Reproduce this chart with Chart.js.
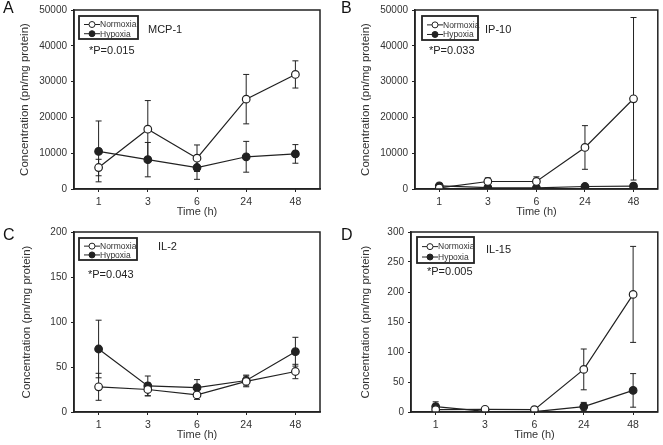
<!DOCTYPE html>
<html><head><meta charset="utf-8">
<script src="https://cdn.jsdelivr.net/npm/chart.js@4"></script>
<style>
html,body{margin:0;padding:0;background:#fff;}
#wrap{position:relative;width:663px;height:445px;overflow:hidden;background:#fff;}
canvas{position:absolute;}
.plbl{position:absolute;font-family:"Liberation Sans",Arial,sans-serif;font-size:16px;color:#111;line-height:16px;}
</style></head><body>
<div id="wrap">
<canvas id="cA" width="331" height="222" style="left:0;top:0;width:331px;height:222px"></canvas>
<canvas id="cB" width="332" height="222" style="left:331px;top:0;width:332px;height:222px"></canvas>
<canvas id="cC" width="331" height="223" style="left:0;top:222px;width:331px;height:223px"></canvas>
<canvas id="cD" width="332" height="223" style="left:331px;top:222px;width:332px;height:223px"></canvas>
<div class="plbl" style="left:3px;top:0px">A</div>
<div class="plbl" style="left:341px;top:0px">B</div>
<div class="plbl" style="left:3px;top:227px">C</div>
<div class="plbl" style="left:341px;top:227px">D</div>
</div>
<script>
// ---- data ----
const timeLabels = ['1', '3', '6', '24', '48'];
const seriesNames = ['Normoxia', 'Hypoxia'];

const mcpNormoxia = [6000, 16700, 8600, 25100, 32000];
const mcpNormoxiaErr = [2300, 8000, 3700, 6900, 3800];
const mcpHypoxia = [10500, 8200, 6000, 9000, 9800];
const mcpHypoxiaErr = [8500, 4800, 3300, 4300, 2600];

const ip10Normoxia = [300, 2100, 2100, 11600, 25200];
const ip10NormoxiaErr = [300, 1000, 1300, 6100, 22700];
const ip10Hypoxia = [900, 400, 300, 700, 800];
const ip10HypoxiaErr = [600, 200, 200, 200, 300];

const il2Normoxia = [28, 25, 19, 34, 45];
const il2NormoxiaErr = [15, 7, 5, 6, 8];
const il2Hypoxia = [70, 29, 27, 35, 67];
const il2HypoxiaErr = [32, 11, 9, 6, 16];

const il15Normoxia = [4, 4.5, 4, 71, 196];
const il15NormoxiaErr = [3, 2, 2, 34, 80];
const il15Hypoxia = [9, 1, 0.5, 9, 36];
const il15HypoxiaErr = [8, 1, 1, 7, 28];

const yMaxA = 50000, yStepA = 10000;
const yMaxB = 50000, yStepB = 10000;
const yMaxC = 200, yStepC = 50;
const yMaxD = 300, yStepD = 50;

const titles = ['MCP-1', 'IP-10', 'IL-2', 'IL-15'];
const pValues = ['*P=0.015', '*P=0.033', '*P=0.043', '*P=0.005'];

const xTitle = 'Time (h)';
const yTitle = 'Concentration (pn/mg protein)';

// ---- drawing ----
const FONT = '"Liberation Sans", Arial, sans-serif';
const INK = '#222';

function makePanel(id, cfg) {
  const ctxEl = document.getElementById(id);
  const W = ctxEl.width, H = ctxEl.height;
  const decor = {
    id: 'decor' + id,
    beforeDatasetsDraw(chart) {
      const ctx = chart.ctx;
      const xs = chart.scales.x, ys = chart.scales.y;
      ctx.save();
      ctx.strokeStyle = INK;
      ctx.lineWidth = 1;
      chart.data.datasets.forEach(ds => {
        ds.data.forEach((v, i) => {
          const e = ds.errors[i];
          const x = xs.getPixelForValue(i);
          const y1 = ys.getPixelForValue(v + e);
          const y0 = ys.getPixelForValue(Math.max(v - e, 0));
          ctx.beginPath();
          ctx.moveTo(x, y0); ctx.lineTo(x, y1);
          ctx.moveTo(x - 3, y0); ctx.lineTo(x + 3, y0);
          ctx.moveTo(x - 3, y1); ctx.lineTo(x + 3, y1);
          ctx.stroke();
        });
      });
      ctx.restore();
    },
    afterDraw(chart) {
      const ctx = chart.ctx;
      const a = chart.chartArea;
      ctx.save();
      ctx.strokeStyle = INK;
      ctx.lineWidth = 1.5;
      ctx.strokeRect(a.left, a.top, a.right - a.left, a.bottom - a.top);
      // legend box
      const lx = a.left + cfg.leg[0], ly = a.top + cfg.leg[1], lw = cfg.leg[2], lh = cfg.leg[3];
      ctx.lineWidth = 1.8;
      ctx.strokeRect(lx, ly, lw, lh);
      ctx.font = '8.5px ' + FONT;
      ctx.textBaseline = 'middle';
      ctx.textAlign = 'left';
      seriesNames.forEach((name, k) => {
        const ry = ly + lh * (k === 0 ? 0.37 : 0.77);
        ctx.lineWidth = 1;
        ctx.strokeStyle = INK;
        ctx.beginPath(); ctx.moveTo(lx + 5, ry); ctx.lineTo(lx + 21, ry); ctx.stroke();
        ctx.beginPath(); ctx.arc(lx + 13, ry, 3, 0, Math.PI * 2);
        ctx.fillStyle = k === 0 ? '#fff' : INK;
        ctx.fill(); ctx.stroke();
        ctx.fillStyle = '#333';
        ctx.fillText(name, lx + 21, ry + 0.5);
      });
      ctx.font = '11px ' + FONT;
      ctx.fillStyle = '#222';
      ctx.fillText(cfg.title, a.left + cfg.tpos[0], a.top + cfg.tpos[1]);
      ctx.fillText(cfg.p, a.left + cfg.ppos[0], a.top + cfg.ppos[1]);
      ctx.restore();
    }
  };
  return new Chart(ctxEl, {
    type: 'line',
    data: {
      labels: timeLabels,
      datasets: [
        { label: seriesNames[0], data: cfg.n, errors: cfg.ne, borderColor: INK, borderWidth: 1.2,
          pointBackgroundColor: '#fff', pointBorderColor: INK, pointBorderWidth: 1.2, pointRadius: 3.8, tension: 0 },
        { label: seriesNames[1], data: cfg.h, errors: cfg.he, borderColor: INK, borderWidth: 1.2,
          pointBackgroundColor: INK, pointBorderColor: INK, pointBorderWidth: 1.2, pointRadius: 3.8, tension: 0 }
      ]
    },
    options: {
      responsive: false,
      animation: false,
      devicePixelRatio: 1,
      layout: { padding: { left: 0, top: cfg.area[1], right: W - cfg.area[2], bottom: 0 } },
      plugins: { legend: { display: false }, tooltip: { enabled: false } },
      scales: {
        x: {
          type: 'category',
          offset: true,
          afterFit(s) { s.height = H - cfg.area[3]; },
          grid: { display: true, drawOnChartArea: false, drawTicks: true, tickLength: 3, color: INK, offset: false },
          border: { display: true, color: INK, width: 1.5 },
          ticks: { color: '#333', font: { family: FONT, size: 10.5 }, padding: 4, maxRotation: 0 },
          title: { display: true, text: xTitle, color: '#333', font: { family: FONT, size: 11 }, padding: { top: 0, bottom: cfg.xtb } }
        },
        y: {
          min: 0, max: cfg.ymax,
          afterFit(s) { s.width = cfg.area[0]; },
          grid: { display: true, drawOnChartArea: false, drawTicks: true, tickLength: 3, color: INK },
          border: { display: true, color: INK, width: 1.5 },
          ticks: { stepSize: cfg.ystep, color: '#333', font: { family: FONT, size: 10 }, padding: 4,
                   callback: v => String(v) },
          title: { display: true, text: yTitle, color: '#333', font: { family: FONT, size: 11.5 }, padding: { top: cfg.ytp, bottom: 0 } }
        }
      }
    },
    plugins: [decor]
  });
}

makePanel('cA', { n: mcpNormoxia, ne: mcpNormoxiaErr, h: mcpHypoxia, he: mcpHypoxiaErr,
  ymax: yMaxA, ystep: yStepA, area: [74, 7, 320, 189], ytp: 18, xtb: 3.5,
  leg: [5, 6, 59, 23], title: titles[0], tpos: [74, 20], p: pValues[0], ppos: [15, 41] });
makePanel('cB', { n: ip10Normoxia, ne: ip10NormoxiaErr, h: ip10Hypoxia, he: ip10HypoxiaErr,
  ymax: yMaxB, ystep: yStepB, area: [84, 7, 329, 189], ytp: 28, xtb: 3.5,
  leg: [7, 6, 56, 24], title: titles[1], tpos: [70, 20], p: pValues[1], ppos: [14, 41] });
makePanel('cC', { n: il2Normoxia, ne: il2NormoxiaErr, h: il2Hypoxia, he: il2HypoxiaErr,
  ymax: yMaxC, ystep: yStepC, area: [74, 9, 320, 190], ytp: 20, xtb: 3.5,
  leg: [5, 6, 58, 22], title: titles[2], tpos: [84, 15], p: pValues[2], ppos: [14, 43] });
makePanel('cD', { n: il15Normoxia, ne: il15NormoxiaErr, h: il15Hypoxia, he: il15HypoxiaErr,
  ymax: yMaxD, ystep: yStepD, area: [80, 9, 330, 190], ytp: 28, xtb: 3.5,
  leg: [6, 5, 57, 26], title: titles[3], tpos: [75, 18], p: pValues[3], ppos: [16, 40] });
</script>
</body></html>
